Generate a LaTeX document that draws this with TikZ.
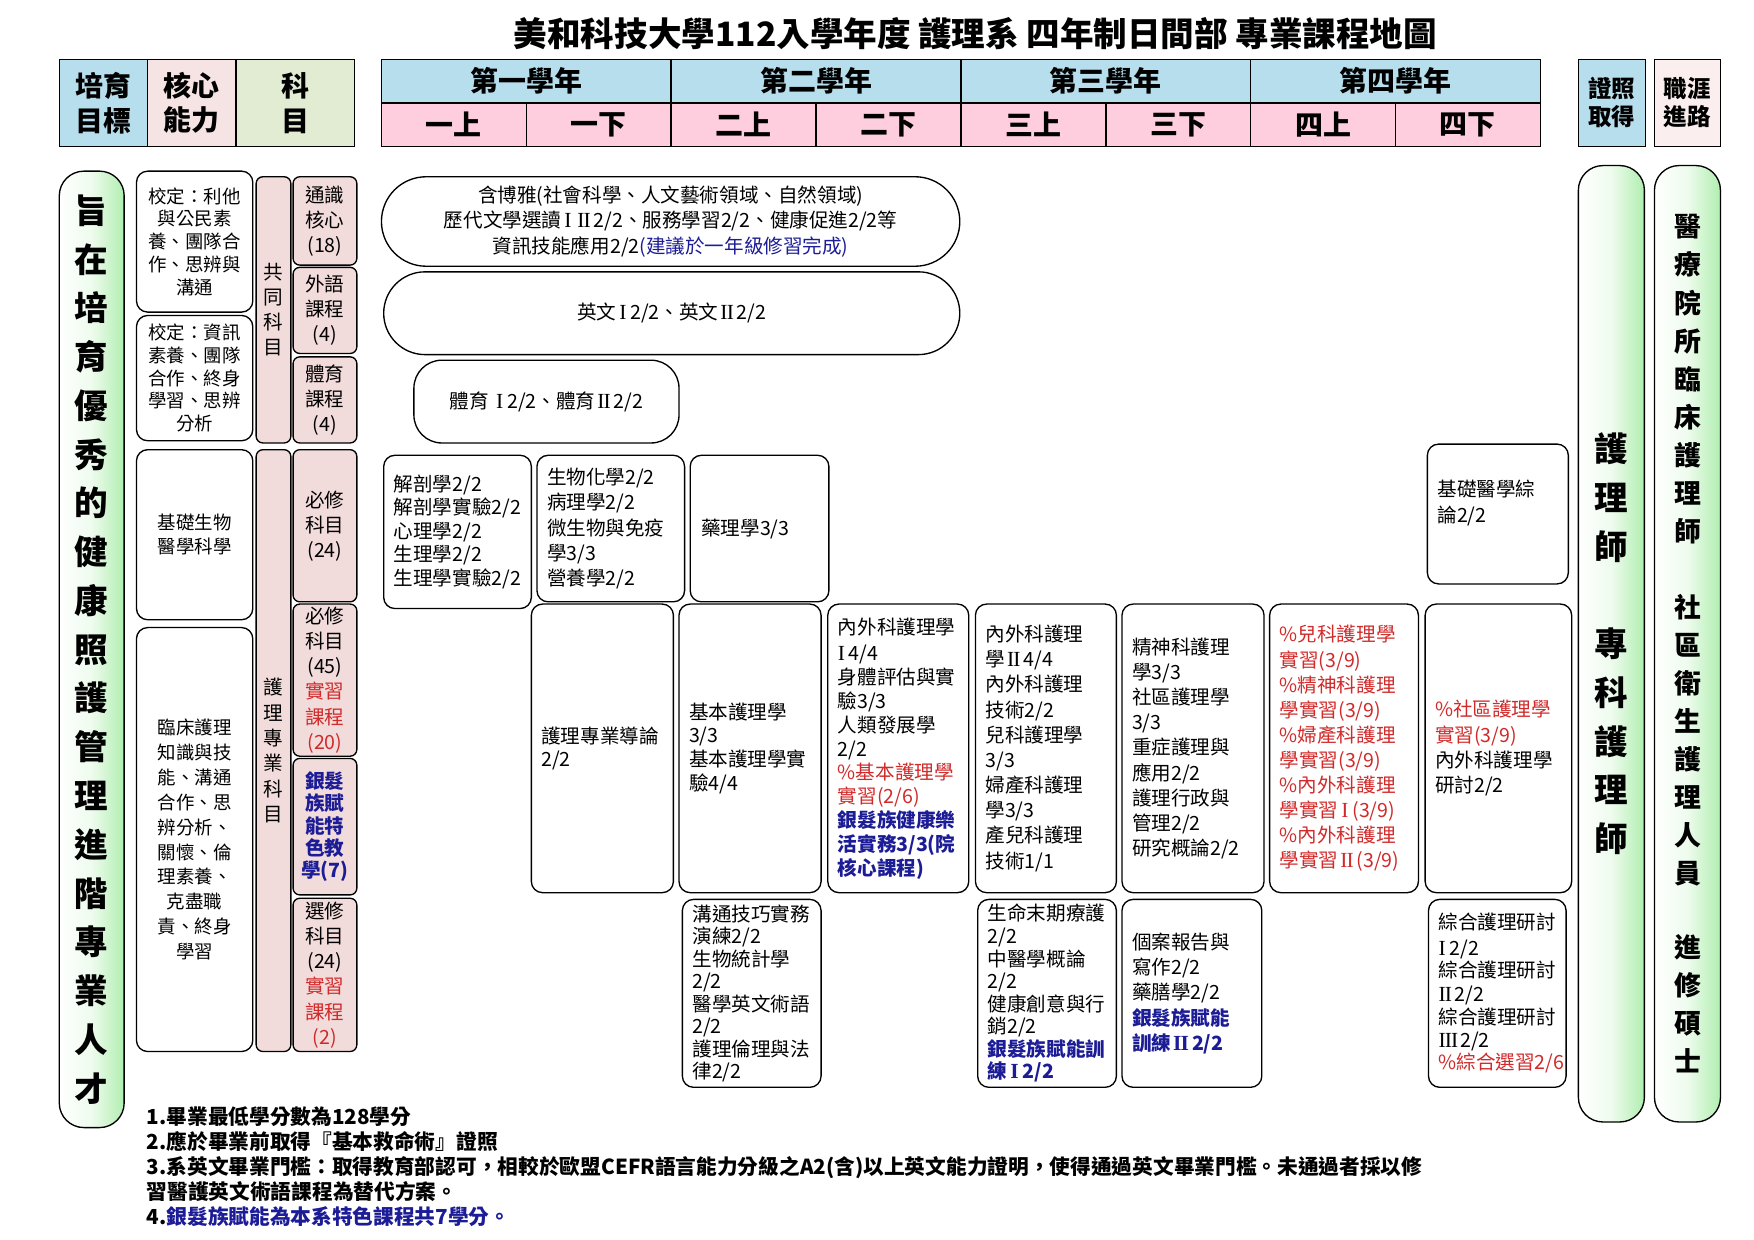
\documentclass[tikz,border=0pt]{standalone}
\usepackage{fontspec}
\setmainfont{Noto Sans CJK TC}
\newfontfamily\serifrn{Liberation Serif}
\definecolor{hblue}{RGB}{183,222,236}
\definecolor{hpink}{RGB}{246,228,228}
\definecolor{hgreen}{RGB}{226,236,210}
\definecolor{spink}{RGB}{255,206,222}
\definecolor{subpink}{RGB}{242,220,219}
\definecolor{hcar}{RGB}{250,238,238}
\definecolor{ggreen}{RGB}{176,238,176}
\definecolor{tred}{RGB}{208,42,42}
\definecolor{tblue}{RGB}{28,28,150}
\newcommand{\fsz}[2]{\fontsize{#1}{#2}\selectfont}
\newcommand{\redtxt}[1]{\textcolor{tred}{#1}}
\newcommand{\bluetxt}[1]{\textcolor{tblue}{\bfseries #1}}
\newcommand{\romI}{\kern0.15em{\serifrn\fontsize{1.1em}{1em}\selectfont I}\kern0.2em}
\newcommand{\romII}{\kern0.1em{\serifrn\fontsize{1.1em}{1em}\selectfont I\kern-0.04em I}\kern0.15em}
\newcommand{\romIII}{\kern0.05em{\serifrn\fontsize{1.1em}{1em}\selectfont I\kern-0.04em I\kern-0.04em I}\kern0.1em}
\tikzset{
  hbox/.style={draw, line width=1.4pt, inner sep=0pt, align=center, font=\bfseries\fsz{25}{31}},
  cbox/.style={draw, line width=1.2pt, rounded corners=10pt, inner sep=0pt, align=center, font=\fsz{16.5}{20.3}},
  pbar/.style={draw, line width=1.2pt, rounded corners=6pt, fill=subpink, inner sep=0pt, align=center, font=\fsz{17.5}{22.4}},
  crs/.style={draw, line width=1.2pt, rounded corners=10pt, inner xsep=9pt, inner ysep=0pt, align=left, font=\fsz{17.5}{21.3}},
  gbar/.style={draw, line width=1.2pt, rounded corners=22pt, left color=white, right color=ggreen, middle color=ggreen!22!white, inner sep=0pt, align=center},
}
\begin{document}
\begin{tikzpicture}[x=1pt,y=-1pt]
\useasboundingbox (0,0) rectangle (1568,1108.5);

% title
\node[font=\bfseries\fsz{30}{36}] (title) at (872,30) {美和科技大學112入學年度 護理系 四年制日間部 專業課程地圖};

% left header
\node[hbox, fill=hblue, minimum width=79pt, minimum height=78pt] (hgoal) at (92.5,92) {培育\\目標};
\node[hbox, fill=hpink, minimum width=79pt, minimum height=78pt] (hcore) at (171.5,92) {核心\\能力};
\node[hbox, fill=hgreen, minimum width=106pt, minimum height=78pt] (hsubj) at (264,92) {科\\目};

% years and semesters
\foreach \t [count=\i from 0] in {第一學年,第二學年,第三學年,第四學年}
  \node[hbox, fill=hblue, minimum width=259pt, minimum height=39pt] (yr\i) at ({341+259*\i+129.5},72.5) {\t};
\foreach \t [count=\i from 0] in {一上,一下,二上,二下,三上,三下,四上,四下}
  \node[hbox, fill=spink, minimum width=129.5pt, minimum height=39pt] (sem\i) at ({341+129.5*\i+64.75},111.5) {\t};

% right header
\node[hbox, fill=hblue, minimum width=60pt, minimum height=78pt, font=\bfseries\fsz{21}{25}] (hcert) at (1441,92) {證照\\取得};
\node[hbox, fill=hcar, minimum width=59pt, minimum height=78pt, font=\bfseries\fsz{21}{25}] (hcareer) at (1508.5,92) {職涯\\進路};

% goal bar
\node[gbar, minimum width=58pt, minimum height=855pt, font=\bfseries\fsz{30}{43.6}] (goal) at (82,580.5)
  {旨\\在\\培\\育\\優\\秀\\的\\健\\康\\照\\護\\管\\理\\進\\階\\專\\業\\人\\才};

% core ability boxes
\node[cbox, minimum width=104pt, minimum height=126pt] (core1) at (174,216) {校定：利他\\與公民素\\養、團隊合\\作、思辨與\\溝通};
\node[cbox, minimum width=104pt, minimum height=112pt] (core2) at (174,338) {校定：資訊\\素養、團隊\\合作、終身\\學習、思辨\\分析};
\node[cbox, minimum width=104pt, minimum height=152pt, font=\fsz{16.5}{21}] (core3) at (174,478) {基礎生物\\醫學科學};
\node[cbox, minimum width=104pt, minimum height=379pt, font=\fsz{16.5}{22.3}] (core4) at (174,750.5) {臨床護理\\知識與技\\能、溝通\\合作、思\\辨分析、\\關懷、倫\\理素養、\\克盡職\\責、終身\\學習};

% subject categories
\node[pbar, minimum width=31pt, minimum height=238pt] (common) at (244.5,277) {共\\同\\科\\目};
\node[pbar, minimum width=31pt, minimum height=538pt, font=\fsz{17.5}{22.6}] (major) at (244.5,671) {護\\理\\專\\業\\科\\目};

\node[pbar, minimum width=57pt, minimum height=79pt] (s1) at (290.5,197.5) {通識\\核心\\(18)};
\node[pbar, minimum width=57pt, minimum height=77pt] (s2) at (290.5,277.5) {外語\\課程\\(4)};
\node[pbar, minimum width=57pt, minimum height=77pt] (s3) at (290.5,357.5) {體育\\課程\\(4)};
\node[pbar, minimum width=57pt, minimum height=136pt] (s4) at (290.5,470) {必修\\科目\\(24)};
\node[pbar, minimum width=57pt, minimum height=136pt] (s5) at (290.5,608) {必修\\科目\\(45)\\\redtxt{實習}\\\redtxt{課程}\\\redtxt{(20)}};
\node[pbar, minimum width=57pt, minimum height=122pt, font=\bfseries\fsz{17.5}{20}, text=tblue] (s6) at (290.5,739) {銀髮\\族賦\\能特\\色教\\學(7)};
\node[pbar, minimum width=57pt, minimum height=137pt, font=\fsz{17.5}{22.6}] (s7) at (290.5,871.5) {選修\\科目\\(24)\\\redtxt{實習}\\\redtxt{課程}\\\redtxt{(2)}};

% common courses
\node[crs, rounded corners=40pt, align=center, minimum width=517pt, minimum height=80pt, font=\fsz{17.5}{22.5}] (ge) at (599.5,198)
  {含博雅(社會科學、人文藝術領域、自然領域)\\歷代文學選讀\romI\romII 2/2、服務學習2/2、健康促進2/2等\\資訊技能應用2/2\textcolor{tblue}{(建議於一年級修習完成)}};
\node[crs, rounded corners=37pt, align=center, minimum width=515pt, minimum height=74pt] (eng) at (600.5,280) {英文\romI 2/2、英文\romII 2/2};
\node[crs, rounded corners=25pt, align=center, minimum width=237pt, minimum height=74pt] (pe) at (488.5,359) {體育 \romI 2/2、體育\romII 2/2};

% required (24)
\node[crs, minimum width=132pt, minimum height=137pt, text width=114pt, font=\fsz{17.5}{21}] (bA) at (409,475.5)
  {解剖學2/2\\解剖學實驗2/2\\心理學2/2\\生理學2/2\\生理學實驗2/2};
\node[crs, minimum width=132pt, minimum height=131pt, text width=114pt, font=\fsz{17.5}{22.5}] (bB) at (546,472.5)
  {生物化學2/2\\病理學2/2\\微生物與免疫\\學3/3\\營養學2/2};
\node[crs, inner xsep=10pt, minimum width=124pt, minimum height=131pt, text width=104pt] (bC) at (679,472.5) {藥理學3/3};
\node[crs, minimum width=126pt, minimum height=125pt, text width=108pt, font=\fsz{17.5}{23}] (bD) at (1339,459.5) {基礎醫學綜\\論2/2\\\mbox{}};

% required (45)
\node[crs, minimum width=127pt, minimum height=258pt, text width=109pt, font=\fsz{17.5}{21}] (p1) at (538.5,669) {護理專業導論\\2/2};
\node[crs, minimum width=127pt, minimum height=258pt, text width=109pt] (p2) at (670.5,669) {基本護理學\\3/3\\基本護理學實\\驗4/4};
\node[crs, minimum width=126pt, minimum height=258pt, text width=108pt] (p3) at (803,669)
  {內外科護理學\\\romI 4/4\\身體評估與實\\驗3/3\\人類發展學\\2/2\\\redtxt{\%基本護理學}\\\redtxt{實習(2/6)}\\\bluetxt{銀髮族健康樂}\\\bluetxt{活實務3/3(院}\\\bluetxt{核心課程)}};
\node[crs, minimum width=126pt, minimum height=258pt, text width=108pt, font=\fsz{17.5}{22.5}] (p4) at (935,669)
  {內外科護理\\學\romII 4/4\\內外科護理\\技術2/2\\兒科護理學\\3/3\\婦產科護理\\學3/3\\產兒科護理\\技術1/1};
\node[crs, minimum width=127pt, minimum height=258pt, text width=109pt, font=\fsz{17.5}{22.5}] (p5) at (1066.5,669)
  {精神科護理\\學3/3\\社區護理學\\3/3\\重症護理與\\應用2/2\\護理行政與\\管理2/2\\研究概論2/2};
\node[crs, minimum width=133pt, minimum height=258pt, text width=115pt, font=\fsz{17.5}{22.4}, text=tred] (p6) at (1201.5,669)
  {\%兒科護理學\\實習(3/9)\\\%精神科護理\\學實習(3/9)\\\%婦產科護理\\學實習(3/9)\\\%內外科護理\\學實習\romI(3/9)\\\%內外科護理\\學實習\romII(3/9)};
\node[crs, minimum width=131pt, minimum height=258pt, text width=113pt, font=\fsz{17.5}{22.7}] (p7) at (1339.5,669)
  {\redtxt{\%社區護理學}\\\redtxt{實習(3/9)}\\內外科護理學\\研討2/2};

% electives
\node[crs, minimum width=124pt, minimum height=168pt, text width=106pt, font=\fsz{17.5}{20.1}] (e1) at (672,888)
  {溝通技巧實務\\演練2/2\\生物統計學\\2/2\\醫學英文術語\\2/2\\護理倫理與法\\律2/2};
\node[crs, minimum width=124pt, minimum height=168pt, text width=106pt, font=\fsz{17.5}{20.2}] (e2) at (936,888)
  {生命末期療護\\2/2\\中醫學概論\\2/2\\健康創意與行\\銷2/2\\\bluetxt{銀髮族賦能訓}\\\bluetxt{練\romI 2/2}};
\node[crs, minimum width=125pt, minimum height=168pt, text width=107pt, font=\fsz{17.5}{22.6}] (e3) at (1065.5,888)
  {個案報告與\\寫作2/2\\藥膳學2/2\\\bluetxt{銀髮族賦能}\\\bluetxt{訓練\romII 2/2}};
\node[crs, minimum width=123pt, minimum height=168pt, text width=105pt, font=\fsz{17.5}{20}] (e4) at (1338.5,888)
  {綜合護理研討\\\romI 2/2\\綜合護理研討\\\romII 2/2\\綜合護理研討\\\romIII 2/2\\\redtxt{\%綜合選習2/6}};

% right bars
\node[gbar, minimum width=59pt, minimum height=855pt, font=\bfseries\fsz{30}{43.6}] (cert) at (1440.5,575.5)
  {護\\理\\師\\[43.6pt]專\\科\\護\\理\\師};
\node[gbar, minimum width=59pt, minimum height=855pt, font=\bfseries\fsz{24}{34}] (career) at (1508.5,575.5)
  {醫\\療\\院\\所\\臨\\床\\護\\理\\師\\[34pt]社\\區\\衛\\生\\護\\理\\人\\員\\[32pt]進\\修\\碩\\士};

% notes
\node[anchor=west, align=left, inner sep=0pt, font=\bfseries\fsz{18.5}{22.5}] (notes) at (131,1043)
  {1.畢業最低學分數為128學分\\2.應於畢業前取得『基本救命術』證照\\3.系英文畢業門檻：取得教育部認可，相較於歐盟CEFR語言能力分級之A2(含)以上英文能力證明，使得通過英文畢業門檻。未通過者採以修\\習醫護英文術語課程為替代方案。\\4.\textcolor{tblue}{銀髮族賦能為本系特色課程共7學分。}};
\end{tikzpicture}
\end{document}
